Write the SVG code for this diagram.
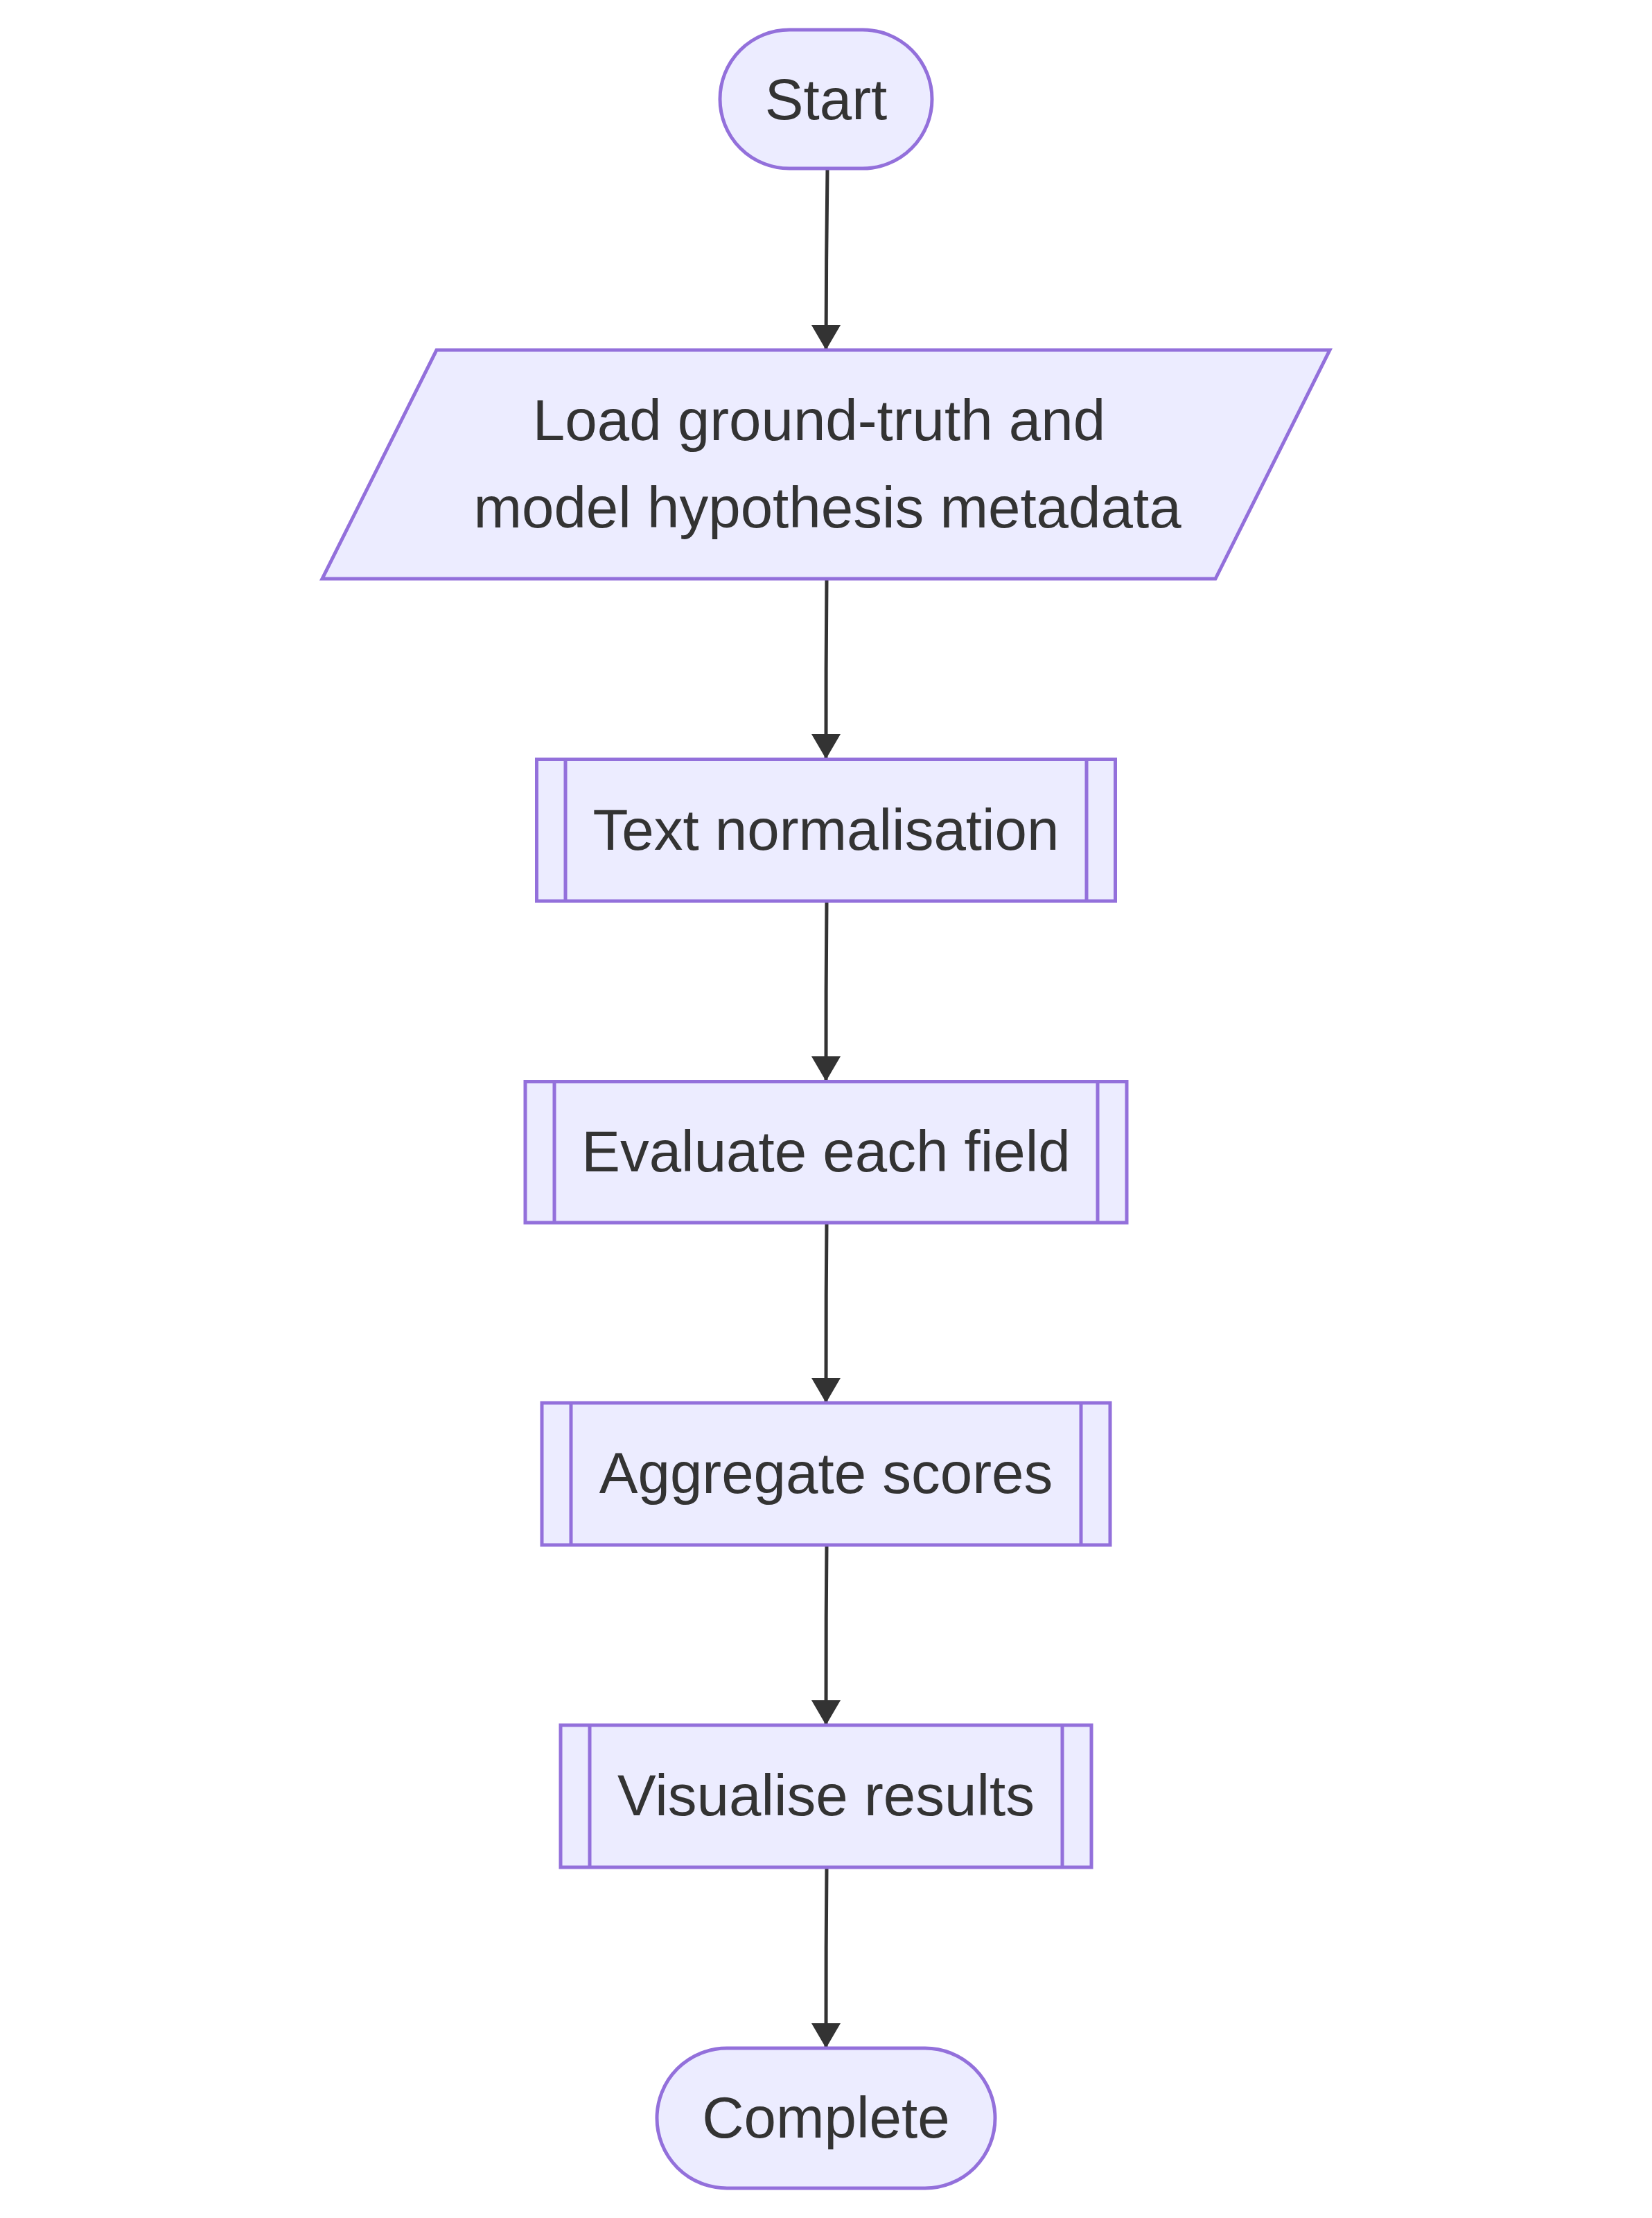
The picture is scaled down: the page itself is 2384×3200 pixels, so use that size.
<svg xmlns="http://www.w3.org/2000/svg" width="2384" height="3200" viewBox="0 0 2384 3200">
<style>
.node{fill:#ECECFF;stroke:#9370DB;stroke-width:5}
.inner{fill:none;stroke:#9370DB;stroke-width:5}
.lbl{font-family:"Liberation Sans",Arial,sans-serif;font-size:83.5px;fill:#333333;text-anchor:middle}
.edge{fill:none;stroke:#333333;stroke-width:5}
</style>
<defs>
<marker id="arrow" markerUnits="userSpaceOnUse" markerWidth="40" markerHeight="44" refX="36" refY="21" orient="auto" viewBox="0 0 40 44">
<path d="M0,0 L36,21 L0,42 z" fill="#333333"/>
</marker>
</defs>
<rect width="2384" height="3200" fill="#ffffff"/>
<g id="connectors">
<path class="edge" d="M1194,245 C1193,330 1192,420 1192,505" marker-end="url(#arrow)"/>
<path class="edge" d="M1193,835 C1192,920 1192,1010 1192,1095" marker-end="url(#arrow)"/>
<path class="edge" d="M1193,1300 C1192,1385 1192,1475 1192,1560" marker-end="url(#arrow)"/>
<path class="edge" d="M1193,1764 C1192,1850 1192,1940 1192,2024" marker-end="url(#arrow)"/>
<path class="edge" d="M1193,2229 C1192,2315 1192,2405 1192,2489" marker-end="url(#arrow)"/>
<path class="edge" d="M1193,2694 C1192,2780 1192,2870 1192,2955" marker-end="url(#arrow)"/>
</g>
<g id="start">
<rect class="node" x="1039" y="43" width="306" height="200" rx="100" ry="100"/>
<text class="lbl" x="1192" y="172">Start</text>
</g>
<g id="load">
<polygon class="node" points="630,505 1919,505 1754,835 465,835"/>
<text class="lbl" x="1182" y="635">Load ground-truth and</text>
<text class="lbl" x="1194" y="761">model hypothesis metadata</text>
</g>
<g id="normalise">
<rect class="node" x="774.5" y="1095.5" width="835" height="204.5"/>
<line class="inner" x1="816" y1="1095.5" x2="816" y2="1300"/>
<line class="inner" x1="1568" y1="1095.5" x2="1568" y2="1300"/>
<text class="lbl" x="1192" y="1226">Text normalisation</text>
</g>
<g id="evaluate">
<rect class="node" x="758" y="1560.5" width="868" height="203.5"/>
<line class="inner" x1="800" y1="1560.5" x2="800" y2="1764"/>
<line class="inner" x1="1584" y1="1560.5" x2="1584" y2="1764"/>
<text class="lbl" x="1192" y="1690">Evaluate each field</text>
</g>
<g id="aggregate">
<rect class="node" x="782" y="2024" width="820" height="205"/>
<line class="inner" x1="824" y1="2024" x2="824" y2="2229"/>
<line class="inner" x1="1560" y1="2024" x2="1560" y2="2229"/>
<text class="lbl" x="1192" y="2154">Aggregate scores</text>
</g>
<g id="visualise">
<rect class="node" x="809" y="2489" width="766" height="205"/>
<line class="inner" x1="851" y1="2489" x2="851" y2="2694"/>
<line class="inner" x1="1533" y1="2489" x2="1533" y2="2694"/>
<text class="lbl" x="1192" y="2619">Visualise results</text>
</g>
<g id="complete">
<rect class="node" x="948" y="2955" width="488" height="202" rx="101" ry="101"/>
<text class="lbl" x="1192" y="3084">Complete</text>
</g>
</svg>
